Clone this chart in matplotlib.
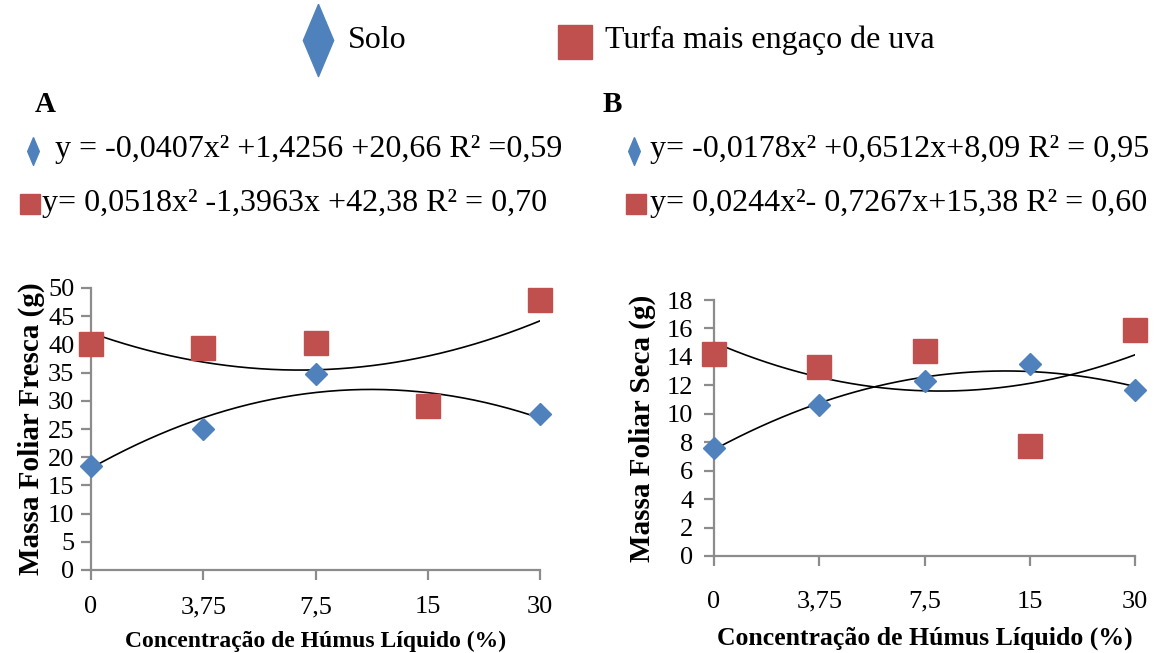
import numpy as np
import matplotlib
matplotlib.use("Agg")
import matplotlib.pyplot as plt
from matplotlib.lines import Line2D

plt.rcParams['font.family'] = ['Liberation Serif', 'DejaVu Serif']

# categories on the x axis (equally spaced, like an Excel category axis)
concentracoes = ["0", "3,75", "7,5", "15", "30"]

# A - massa foliar fresca (g)
fresca_solo = [18.5, 25.0, 34.8, 29.0, 27.6]
fresca_turfa = [40.0, 39.4, 40.2, 29.1, 47.8]

# B - massa foliar seca (g)
seca_solo = [7.6, 10.6, 12.3, 13.5, 11.7]
seca_turfa = [14.2, 13.3, 14.4, 7.7, 15.9]

eq_a = ["y = -0,0407x² +1,4256 +20,66 R² =0,59",
        "y= 0,0518x² -1,3963x +42,38 R² = 0,70"]
eq_b = ["y= -0,0178x² +0,6512x+8,09 R² = 0,95",
        "y= 0,0244x²- 0,7267x+15,38 R² = 0,60"]

azul = "#4F81BD"
vermelho = "#C0504D"
cinza = "#8C8C8C"

W, H = 1154, 653
fig = plt.figure(figsize=(W / 100, H / 100), dpi=100)

# thin tall diamond used in the header legend
losango = [(0, 1), (0.42, 0), (0, -1), (-0.42, 0), (0, 1)]


def px(x, y):
    # pixel position -> figure fraction
    return x / W, 1 - y / H


def marca(x, y, marker, color, size):
    fx, fy = px(x, y)
    fig.add_artist(Line2D([fx], [fy], marker=marker, color=color,
                          markersize=size, linestyle='none',
                          transform=fig.transFigure))


def painel(rect, solo, turfa, ymax, ystep, ylabel, xpad, ypad, fs_label,
           xlabelpad, ylabelpad):
    ax = fig.add_axes(rect)
    x = np.arange(1, len(concentracoes) + 1)
    xs = np.linspace(1, len(concentracoes), 200)

    # quadratic trend lines
    for serie in (solo, turfa):
        coef = np.polyfit(x, serie, 2)
        ax.plot(xs, np.polyval(coef, xs), color='black', lw=1.2, zorder=2)

    ax.plot(x, solo, linestyle='none', marker='D', markersize=11,
            color=azul, clip_on=False, zorder=3)
    ax.plot(x, turfa, linestyle='none', marker='s', markersize=17,
            color=vermelho, clip_on=False, zorder=3)

    ax.set_xlim(1, len(concentracoes))
    ax.set_ylim(0, ymax)
    ax.set_xticks(x)
    ax.set_xticklabels(concentracoes)
    ax.set_yticks(np.arange(0, ymax + ystep / 2, ystep))

    for s in ('top', 'right'):
        ax.spines[s].set_visible(False)
    for s in ('left', 'bottom'):
        ax.spines[s].set_color(cinza)
        ax.spines[s].set_linewidth(1.6)
    ax.tick_params(axis='both', direction='out', length=7, width=1.6,
                   color=cinza, labelsize=19)
    ax.tick_params(axis='x', pad=xpad)
    ax.tick_params(axis='y', pad=ypad)

    ax.set_xlabel("Concentração de Húmus Líquido (%)", fontsize=fs_label,
                  fontweight='bold', labelpad=xlabelpad)
    ax.set_ylabel(ylabel, fontsize=21, fontweight='bold', labelpad=ylabelpad)
    return ax


painel([91 / W, 1 - 570 / H, 449 / W, 282 / H], fresca_solo, fresca_turfa,
       50, 5, "Massa Foliar Fresca (g)", 12, 5, 17, 9, 2)
painel([714 / W, 1 - 556 / H, 421 / W, 256 / H], seca_solo, seca_turfa,
       18, 2, "Massa Foliar Seca (g)", 18, 8, 18.5, 10, 8)

# header legend
marca(318, 40, losango, azul, 52)
fig.text(*px(348, 40), "Solo", fontsize=23, va='center', ha='left')
marca(575, 42, 's', vermelho, 25)
fig.text(*px(605, 40), "Turfa mais engaço de uva", fontsize=23,
         va='center', ha='left')

# panel titles and equations
fig.text(*px(35, 105), "A", fontsize=21, fontweight='bold', va='center')
fig.text(*px(603, 105), "B", fontsize=21, fontweight='bold', va='center')

marca(33, 151, losango, azul, 20)
fig.text(*px(55, 150), eq_a[0], fontsize=23, va='center')
marca(30, 204, 's', vermelho, 15)
fig.text(*px(42, 204), eq_a[1], fontsize=23, va='center')

marca(634, 151, losango, azul, 20)
fig.text(*px(650, 150), eq_b[0], fontsize=23, va='center')
marca(636, 204, 's', vermelho, 15)
fig.text(*px(650, 204), eq_b[1], fontsize=23, va='center')

fig.savefig("out.png", dpi=100)
